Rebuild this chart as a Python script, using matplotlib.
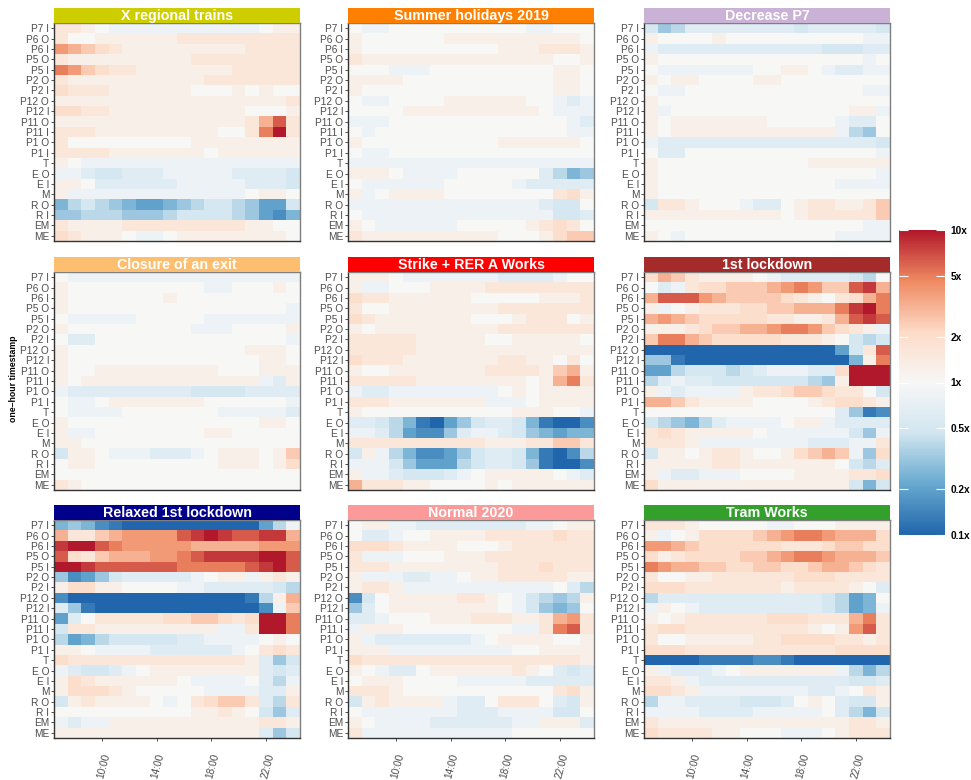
import numpy as np
import matplotlib
matplotlib.use("Agg")
import matplotlib.pyplot as plt
from matplotlib.colors import LinearSegmentedColormap, LogNorm

plt.rcParams['font.family'] = ['Liberation Sans', 'DejaVu Sans']

# ==============================
# Data
# ==============================
stations = ["P7 I", "P6 O", "P6 I", "P5 O", "P5 I", "P2 O", "P2 I", "P12 O",
            "P12 I", "P11 O", "P11 I", "P1 O", "P1 I", "T", "E O", "E I", "M",
            "R O", "R I", "EM", "ME"]

hours = ["07:00", "08:00", "09:00", "10:00", "11:00", "12:00", "13:00", "14:00",
         "15:00", "16:00", "17:00", "18:00", "19:00", "20:00", "21:00", "22:00",
         "23:00", "00:00"]
shown_hours = ["10:00", "14:00", "18:00", "22:00"]

events = ["X regional trains", "Summer holidays 2019", "Decrease P7",
          "Closure of an exit", "Strike + RER A Works", "1st lockdown",
          "Relaxed 1st lockdown", "Normal 2020", "Tram Works"]
strip_colors = ["#CDCD00", "#FF7F00", "#CAB2D6",
                "#FDBF6F", "#FF0000", "#A52A2A",
                "#00008B", "#FB9A99", "#33A02C"]

# ratio to reference, coded per cell: '0' = 1x, 'A'..'J' = +0.1..+1.0 decade,
# 'a'..'j' = -0.1..-1.0 decade (one row per station, one char per hour)
x_regional = [
    "BBA0aaaaaaaaaaa0AA",
    "B00AAAAAABBBBBBBBB",
    "FEDCBAAAAAAAAABBBB",
    "BAAAAAAAAABBBBBBBB",
    "GFDCBBAAAAAAABBBBB",
    "BAAAAAAAAAABBBBBBB",
    "CBBBAAAAAA000A0A00",
    "AAAAAAAAAAAAAAAAAB",
    "CCBBAAAAAAAAAA000A",
    "AAAAAAAAAAAAAABEHB",
    "BBBAAAAAAAAA00BGJB",
    "B000000000AAAAAAAA",
    "BBBBAAAAAAA0AAAAAA",
    "A0aaaaaaaaaaaaaaaa",
    "aabccbbbaaaaabbbbc",
    "AA0bbbbbbaaaaabbbc",
    "Aaaaaaaaaaaaaa0AA0",
    "fdcdefggfedccdeggc",
    "eedddeeedccccdeghf",
    "BAAAABBBBBBBBBAA00",
    "CBAAA0aa0AAAAAAAA0",
]
summer_2019 = [
    "0aa0000000000aa000",
    "A000000AAAAAAAAAA0",
    "A0000000000AAABBBA",
    "BAAAAAAAAAAAAAA00A",
    "000aaa000000000AA0",
    "AAAA00000000000AA0",
    "A00000000000000AA0",
    "0aa0000AAAAAA00aba",
    "0000AAAAAAAAAA0aaa",
    "aaa0000000000000ab",
    "0a00000000000000aa",
    "A0000000000AAAAAA0",
    "0aa000000000000000",
    "aaaaaaaaaaaaaaaaaa",
    "AAA0aaaa000000bdfe",
    "0aaaaaa00000abbbbb",
    "Aa0AAAA00000000BCA",
    "aaaaaaaaaaaaaabcc0",
    "0aaaaaaaaaaaaaaccb",
    "A0aaaaaa00000ABCB0",
    "BAAAAAAAAAA000ACDD",
]
decrease_p7 = [
    "cedbbbbbbbbcbbbbbc",
    "A0000A0000000000aa",
    "abbbbbbbbbbbbcccbb",
    "A000000000000000a0",
    "0aaaaaaa00AA0abbaa",
    "A0AA0000AA00000000",
    "0aa0000000000000aa",
    "A00000000000000000",
    "Aa0000000000000AAa",
    "A0AAAAAAA00000abb0",
    "A0AAAAAAAAAAAAade0",
    "abbbbbbbbbbbbbbbbc",
    "0bb00000000000000a",
    "A00000000000AAAAAA",
    "A0000000000000000a",
    "A0000000000000aaaa",
    "A00000000000000000",
    "cBBA000abb0ABBAABD",
    "AAAAAAAAAA0ABBBBBD",
    "0000000000000000aa",
    "A0a00000000000aaaa",
]
closure_exit = [
    "0aaaaaaaaaaaaaaaaa",
    "A0000000000aa000A0",
    "A0000000A000000000",
    "A0000000000000000a",
    "0aaaaa00000aaaaaaa",
    "A000000000aaa0000A",
    "0bb00000000000000a",
    "A0000000000000AAA0",
    "A00000000000000AA0",
    "A00AAAAAAAAA000AAA",
    "A0AAAAAAAAAAAAAabA",
    "abbbbbbbbbccccbbbb",
    "0aa0AAAAAAA000000a",
    "0aaaa0000000aaaaab",
    "A00000000000000AA0",
    "Aaa00000000AA00000",
    "AA0000000000000000",
    "cAA0aaabbba0AAA0AD",
    "0AA000000000AAA0AC",
    "000000000000000000",
    "BA0000000000000000",
]
strike_rer = [
    "AAA0aaaaaaabbbba00",
    "Aaa000AAAABBBBBBBB",
    "CBBAAAAAA00000AAAB",
    "B00AAAAAAAABBBBBBB",
    "CBAAAAAAA000ABBB0A",
    "A0AAAAAAAAABBBBBBB",
    "BBBBBAAAAA00AAAAA0",
    "BBBBBAAAAAAAAAAAAA",
    "CBBBAAAAAAABBAA0B0",
    "A00AAAAAAABBBBADEA",
    "BBBBBAAAAAAAA0AEGB",
    "abbaaaaaaaa0A0AAAA",
    "BBBAAAAAAAaaa0AAAA",
    "A00000000000AAA00a",
    "bbcdfijgecbbcfijjh",
    "aabdghhebaabcefgff",
    "BBBBBBBBBBAAABBDDB",
    "cAadfhhgecbbcfijhd",
    "aaacegggdcbbceijjh",
    "Aaabcccba0AAAAA0ab",
    "EBBBAA0000A0AAAAAA",
]
lockdown_1 = [
    "CEDBAAAA0abbbbbcd0",
    "0baBCCDDDEFGFDDHIE",
    "EHHHFEDDDDCBA0BCEG",
    "Aa0ABBBCCDDEEEGIJG",
    "EFEDCCCCCBBAABEHIH",
    "AAABCDDEEFGGFDCBAa",
    "DGGEDCCCCCBBBA0cdc",
    "jjjjjjjjjjjjjjgcBH",
    "eeijjjjjjjjjjjjfAG",
    "ggdcccdcbaaabbCJJJ",
    "dbabbcccccccdeAJJJ",
    "AabaaaaABBCDDCBB0c",
    "EEDBAAAA0000ABCCBA",
    "00000000000000beih",
    "cdefdbaaaa0AAabbbb",
    "BCBAAAAA0aaaaaacea",
    "BBBAaaaaaaaabbbaaB",
    "cAA0ABBA00ACDEDaeC",
    "AAAAABBAAAAAAA0cdb",
    "Aabbaaa0000AAAABBC",
    "CAAAAAAAAAAAAAAcfc",
]
relaxed_lockdown = [
    "fefhijjjjjjjjjjgda",
    "EBBDEFFFFHIJIHHIIE",
    "IJJHGFFFFFEEEEEFFF",
    "HCBDEEEFFGHIIIIJJH",
    "JJIHHHHHHGGGGGHIJH",
    "ehgecbbbbba0AAaABA",
    "ACCAA0000aabbbbbcd",
    "hjjjjjjjjjjjjjidAE",
    "beijjjjjjjjjjjjhaD",
    "gb0BBBBBCCDDCBCJJG",
    "cBBAAAAAAAAAaaBJJG",
    "dgfdcccccbbaaaa0A0",
    "AA0aaaabbbbbba0BCB",
    "CBBBBBBBBBBBBBAbec",
    "abccba0AAAAAAAAbcb",
    "ACBAAAAAA0aaaa0bda",
    "ACCCBA00000aaaabbA",
    "cABAAAA0a0BCDDBbdB",
    "0000000000AABA0ceb",
    "abaaAAAAAAAAAAABBA",
    "AAAAAAAAAAAAAAAbec",
]
normal_2020 = [
    "0AAaabbbbbbbbaa0AA",
    "0bba00AAAABBBBBCBB",
    "CCCBAAAA000ABBBBBB",
    "Baaa000AAABBBBBBBB",
    "BBBAAAAAAAABBBCBBB",
    "Aaaabbaa0AABBBBBAA",
    "ABBAaaaaaaaaaaa0bd",
    "hc0AAAAABBA0acdedA",
    "eb0AAAAAAAA0acefe0",
    "bba000AAABBBAABEFB",
    "aAAA00000000aaBGHB",
    "Aabbbbbbba0AAAA00A",
    "AAAaaaaaaaaa00AAAA",
    "CBBBBBBBBBBBBBBBBA",
    "A0abb0AAAAAABA0bcb",
    "0AAA0000aaaaabbbbb",
    "BBBA00000000000BCA",
    "cABAAAAabb0BBB0bcA",
    "0aaaaaaabbbaaaacc0",
    "A0aaaabbbbbbaaAAAb",
    "Baaaaaaaaaaa000000",
]
tram_works = [
    "BBBA00000aa000AAAA",
    "Aa0ACCCCDEFGGFEEEC",
    "FFEDCCCCCCBBBCDDCC",
    "CABCCCCDDEFGGFEEED",
    "GFEEDDCCDDCCDEEDCB",
    "B00AABBBBBBCCCBBBB",
    "CCCBBBBBBBABBBBA0b",
    "dbbbbbbbbbbbbcdgf0",
    "aA0abbbbbbbbbcdgfa",
    "A0ABBBBBBCCCBBBEGB",
    "BCCBBBBBBBBBA0AFHB",
    "B00AAAAABBCCCCBBAB",
    "CCCBBBBBBBBBBBCCCC",
    "jjjjiiiihhijjjjjjj",
    "Aabbba0AAAAAAAadfd",
    "BBAabbbbbbbbbbbccb",
    "CCBAaaaaaaaabba0BA",
    "daabbbbcccb0A0bccA",
    "aaaabbbbaaaaa0bdfc",
    "BAAAAAAAAAAAAAABBA",
    "CBBBBAA000aaa0ABBB",
]

panels = [x_regional, summer_2019, decrease_p7,
          closure_exit, strike_rer, lockdown_1,
          relaxed_lockdown, normal_2020, tram_works]

LEVELS = "jihgfedcba0ABCDEFGHIJ"


def decode(rows, name):
    bad = [r for r in rows if len(r) != len(hours)]
    if len(rows) != len(stations) or bad:
        raise ValueError(f"{name}: {len(rows)} rows, bad rows {bad}")
    return np.array([[10 ** ((LEVELS.index(c) - 10) / 10) for c in r] for r in rows])


# ggplot distiller RdBu (7 colours), low = blue, high = red
cmap = LinearSegmentedColormap.from_list(
    "rdbu", ["#2166AC", "#67A9CF", "#D1E5F0", "#F7F7F7",
             "#FDDBC7", "#EF8A62", "#B2182B"])
norm = LogNorm(vmin=0.1, vmax=10)

# ==============================
# Figure
# ==============================
W, H = 971, 780
fig = plt.figure(figsize=(W / 100, H / 100), dpi=100)


def px_axes(x, y, w, h):
    return fig.add_axes([x / W, 1 - (y + h) / H, w / W, h / H])


col_x = [54, 348, 644]
row_y = [8, 257, 505]
panel_w, strip_h, heat_h = 246, 15, 218

for k, (rows, name, scol) in enumerate(zip(panels, events, strip_colors)):
    r, c = divmod(k, 3)
    vals = decode(rows, name)
    x0, y0 = col_x[c], row_y[r]

    ax = px_axes(x0, y0 + strip_h, panel_w, heat_h)
    ax.pcolormesh(np.arange(len(hours) + 1), np.arange(len(stations) + 1), vals,
                  cmap=cmap, norm=norm)
    ax.set_xlim(0, len(hours))
    ax.set_ylim(len(stations), 0)
    ax.set_yticks(np.arange(len(stations)) + 0.5)
    ax.set_yticklabels(stations, fontsize=7.3, color="#4D4D4D")
    ax.tick_params(axis="y", length=2.5, width=0.6, color="#333333", pad=1)

    if r == 2:
        ax.set_xticks([hours.index(h) + 0.5 for h in shown_hours])
        ax.set_xticklabels(shown_hours, rotation=75, fontsize=7.3, color="#4D4D4D",
                           ha="right", va="top", rotation_mode="anchor")
        ax.tick_params(axis="x", length=2.5, width=0.6, color="#333333", pad=8)
    else:
        ax.set_xticks([])

    for side in ["top", "right"]:
        ax.spines[side].set_color("#7F7F7F")
        ax.spines[side].set_linewidth(1.0)
    for side in ["left", "bottom"]:
        ax.spines[side].set_color("#333333")
        ax.spines[side].set_linewidth(1.0)

    sax = px_axes(x0, y0, panel_w, strip_h)
    sax.set_facecolor(scol)
    sax.set_xticks([])
    sax.set_yticks([])
    for sp in sax.spines.values():
        sp.set_visible(False)
    sax.text(0.5, 0.45, name, transform=sax.transAxes, ha="center", va="center",
             color="white", fontsize=10.3, fontweight="bold")

fig.text(14 / W, 1 - 379 / H, "one\u2013hour timestamp", rotation=90,
         ha="center", va="center", fontsize=6.3, fontweight="bold")

# ==============================
# Colorbar
# ==============================
cax = px_axes(899, 230, 46, 305)
sm = plt.cm.ScalarMappable(norm=norm, cmap=cmap)
cb = fig.colorbar(sm, cax=cax)
cb.outline.set_visible(False)
cb_ticks = [0.1, 0.2, 0.5, 1, 2, 5, 10]
cb_labels = ["0.1x", "0.2x", "0.5x", "1x", "2x", "5x", "10x"]
cb.set_ticks(cb_ticks)
cb.set_ticklabels(cb_labels)
cax.minorticks_off()
cax.tick_params(which="both", direction="in", color="white", length=6.5, width=0.8,
                left=True, right=True, labelsize=7.3, pad=4)
for lab in cax.get_yticklabels():
    lab.set_fontweight("bold")

fig.savefig("out.png", dpi=100)
